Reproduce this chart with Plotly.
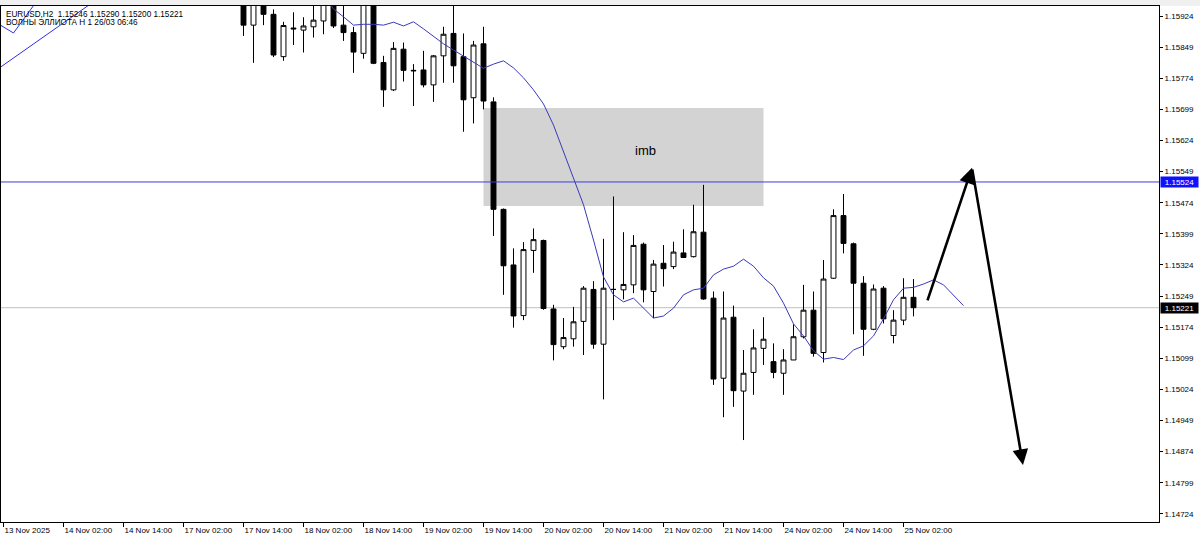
import plotly.graph_objects as go

# ---------------- data ----------------
bar_index = list(range(24, 92))
opens = [1.15975, 1.15902, 1.15985, 1.15928, 1.15826, 1.15895, 1.15890, 1.15898, 1.15912, 1.15970,
         1.15902, 1.15884, 1.15834, 1.15965, 1.15812, 1.15746, 1.15844, 1.15793, 1.15794, 1.15758,
         1.15828, 1.15882, 1.15826, 1.15727, 1.15857, 1.15717, 1.15458, 1.15324, 1.15202, 1.15359,
         1.15383, 1.15218, 1.15127, 1.15146, 1.15188, 1.15265, 1.15133, 1.15265, 1.15264, 1.15276,
         1.15374, 1.15260, 1.15328, 1.15320, 1.15353, 1.15344, 1.15403, 1.15244, 1.15051, 1.15198,
         1.15020, 1.15065, 1.15123, 1.15091, 1.15063, 1.15095, 1.15151, 1.15215, 1.15113, 1.15292,
         1.15443, 1.15375, 1.15280, 1.15169, 1.15268, 1.15154, 1.15191, 1.15246]
highs = [1.15990, 1.16000, 1.15995, 1.15940, 1.15910, 1.15933, 1.15921, 1.15960, 1.15980, 1.15985,
         1.15960, 1.15898, 1.15975, 1.15975, 1.15828, 1.15861, 1.15860, 1.15808, 1.15840, 1.15830,
         1.15898, 1.15965, 1.15882, 1.15864, 1.15898, 1.15728, 1.15460, 1.15364, 1.15379, 1.15412,
         1.15385, 1.15228, 1.15196, 1.15223, 1.15273, 1.15285, 1.15387, 1.15489, 1.15403, 1.15396,
         1.15378, 1.15336, 1.15372, 1.15380, 1.15410, 1.15469, 1.15517, 1.15260, 1.15260, 1.15226,
         1.15119, 1.15169, 1.15198, 1.15135, 1.15121, 1.15181, 1.15276, 1.15260, 1.15336, 1.15458,
         1.15495, 1.15378, 1.15297, 1.15277, 1.15273, 1.15215, 1.15292, 1.15290]
lows = [1.15876, 1.15811, 1.15902, 1.15825, 1.15816, 1.15854, 1.15836, 1.15872, 1.15880, 1.15895,
        1.15864, 1.15787, 1.15821, 1.15808, 1.15705, 1.15743, 1.15766, 1.15707, 1.15752, 1.15717,
        1.15763, 1.15763, 1.15645, 1.15665, 1.15699, 1.15394, 1.15252, 1.15173, 1.15191, 1.15305,
        1.15216, 1.15094, 1.15121, 1.15127, 1.15107, 1.15122, 1.15000, 1.15191, 1.15241, 1.15256,
        1.15234, 1.15196, 1.15272, 1.15314, 1.15341, 1.15342, 1.15240, 1.15035, 1.14957, 1.14982,
        1.14902, 1.15011, 1.15083, 1.15051, 1.15011, 1.15095, 1.15147, 1.15103, 1.15089, 1.15290,
        1.15352, 1.15157, 1.15105, 1.15167, 1.15183, 1.15135, 1.15179, 1.15200]
closes = [1.15902, 1.15985, 1.15928, 1.15830, 1.15901, 1.15893, 1.15900, 1.15914, 1.15965, 1.15900,
          1.15884, 1.15837, 1.15960, 1.15810, 1.15746, 1.15846, 1.15793, 1.15792, 1.15758, 1.15828,
          1.15880, 1.15804, 1.15722, 1.15854, 1.15719, 1.15458, 1.15322, 1.15201, 1.15361, 1.15385,
          1.15219, 1.15132, 1.15149, 1.15187, 1.15268, 1.15133, 1.15268, 1.15265, 1.15277, 1.15371,
          1.15264, 1.15326, 1.15315, 1.15355, 1.15342, 1.15404, 1.15242, 1.15049, 1.15196, 1.15021,
          1.15063, 1.15124, 1.15145, 1.15065, 1.15095, 1.15151, 1.15215, 1.15111, 1.15290, 1.15443,
          1.15376, 1.15280, 1.15169, 1.15266, 1.15194, 1.15191, 1.15246, 1.15221]

ma_bars = list(range(31, 97))
ma_values = [1.16011, 1.15977, 1.15941, 1.15922, 1.15902, 1.15904, 1.15904, 1.15902, 1.15909, 1.15900,
             1.15910, 1.15893, 1.15874, 1.15857, 1.15842, 1.15828, 1.15813, 1.15798, 1.15808, 1.15816,
             1.15799, 1.15775, 1.15746, 1.15712, 1.15661, 1.15596, 1.15529, 1.15469, 1.15384, 1.15295,
             1.15252, 1.15235, 1.15244, 1.15220, 1.15196, 1.15201, 1.15220, 1.15252, 1.15264, 1.15268,
             1.15300, 1.15314, 1.15321, 1.15338, 1.15321, 1.15293, 1.15273, 1.15232, 1.15182, 1.15153,
             1.15117, 1.15097, 1.15101, 1.15096, 1.15119, 1.15129, 1.15153, 1.15194, 1.15240, 1.15268,
             1.15270, 1.15278, 1.15288, 1.15276, 1.15252, 1.15226]

wave1_bars = [-2, 12]
wave1_prices = [1.15772, 1.16009]
wave2_bars = [-1, 1, 4]
wave2_prices = [1.15912, 1.15883, 1.15982]

arrow_bars = [92.35, 96.85, 101.95]
arrow_prices = [1.15235, 1.15558, 1.14842]

imb_bars = [48, 76]
imb_prices = [1.15466, 1.15702]
imb_label_bar = 64.15
imb_label_price = 1.15601

resistance_level = 1.15524
bid_level = 1.15221

x_tick_bars = [0, 6, 12, 18, 24, 30, 36, 42, 48, 54, 60, 66, 72, 78, 84, 90]
x_tick_labels = ["13 Nov 2025", "14 Nov 02:00", "14 Nov 14:00", "17 Nov 02:00", "17 Nov 14:00",
                 "18 Nov 02:00", "18 Nov 14:00", "19 Nov 02:00", "19 Nov 14:00", "20 Nov 02:00",
                 "20 Nov 14:00", "21 Nov 02:00", "21 Nov 14:00", "24 Nov 02:00", "24 Nov 14:00",
                 "25 Nov 02:00"]
price_ticks = [1.14724, 1.14799, 1.14874, 1.14949, 1.15024, 1.15099, 1.15174, 1.15249, 1.15324,
               1.15399, 1.15474, 1.15549, 1.15624, 1.15699, 1.15774, 1.15849, 1.15924]

header_line1 = "EURUSD,H2\u00a0 1.15246 1.15290 1.15200 1.15221"
header_line2 = "ВОЛНЫ ЭЛЛИОТА Н 1 26/03 06:46"

FONT = "Liberation Sans, Arial, sans-serif"
MA_COLOR = "#3a3ab8"

fig = go.Figure()

fig.add_trace(go.Candlestick(
    x=bar_index, open=opens, high=highs, low=lows, close=closes,
    increasing=dict(line=dict(color="black", width=1), fillcolor="white"),
    decreasing=dict(line=dict(color="black", width=1), fillcolor="black"),
    whiskerwidth=0, showlegend=False, hoverinfo="skip"))

fig.add_trace(go.Scatter(x=ma_bars, y=ma_values, mode="lines",
                         line=dict(color=MA_COLOR, width=1), showlegend=False, hoverinfo="skip"))
fig.add_trace(go.Scatter(x=wave1_bars, y=wave1_prices, mode="lines",
                         line=dict(color="#3030e0", width=1), showlegend=False, hoverinfo="skip"))
fig.add_trace(go.Scatter(x=wave2_bars, y=wave2_prices, mode="lines",
                         line=dict(color="#3030e0", width=1), showlegend=False, hoverinfo="skip"))

shapes = [
    dict(type="rect", xref="x", yref="y", x0=imb_bars[0], x1=imb_bars[1],
         y0=imb_prices[0], y1=imb_prices[1], fillcolor="#d3d3d3", line=dict(width=0), layer="below"),
    dict(type="line", xref="paper", yref="y", x0=0, x1=1, y0=bid_level, y1=bid_level,
         line=dict(color="#c0c0c0", width=1), layer="below"),
    dict(type="line", xref="paper", yref="y", x0=0, x1=1, y0=resistance_level, y1=resistance_level,
         line=dict(color="#3c3cdc", width=1), layer="above"),
    dict(type="rect", xref="paper", yref="paper", x0=-0.01, x1=1.05, y0=1.0, y1=1.02,
         fillcolor="#f0f0f0", line=dict(width=0), layer="below"),
]

annotations = [
    dict(text="imb", x=imb_label_bar, y=imb_label_price, xref="x", yref="y", showarrow=False,
         font=dict(family=FONT, size=13, color="black")),
    dict(text=header_line1, x=0, y=1, xref="paper", yref="paper", xanchor="left", yanchor="top",
         xshift=3, yshift=-2, showarrow=False, font=dict(family=FONT, size=8.2, color="black")),
    dict(text=header_line2, x=0, y=1, xref="paper", yref="paper", xanchor="left", yanchor="top",
         xshift=3, yshift=-10, showarrow=False, font=dict(family=FONT, size=8.2, color="black")),
    dict(text=f"{resistance_level:.5f}", x=1, y=resistance_level, xref="paper", yref="y",
         xanchor="left", xshift=1, showarrow=False, bgcolor="#1010ff", width=37, height=10,
         borderpad=0, font=dict(family=FONT, size=8, color="white")),
    dict(text=f"{bid_level:.5f}", x=1, y=bid_level, xref="paper", yref="y",
         xanchor="left", xshift=1, showarrow=False, bgcolor="black", width=37, height=10,
         borderpad=0, font=dict(family=FONT, size=8, color="white")),
]
# arrows (up then down)
for i in range(2):
    annotations.append(dict(
        x=arrow_bars[i + 1], y=arrow_prices[i + 1], ax=arrow_bars[i], ay=arrow_prices[i],
        xref="x", yref="y", axref="x", ayref="y", text="", showarrow=True,
        arrowhead=2, arrowsize=1.2, arrowwidth=2.6, arrowcolor="black", standoff=0))

fig.update_layout(
    width=1200, height=545,
    margin=dict(l=1, r=41, t=6, b=23),
    paper_bgcolor="white", plot_bgcolor="white",
    showlegend=False,
    font=dict(family=FONT, size=8, color="black"),
    shapes=shapes, annotations=annotations,
    xaxis=dict(range=[-0.25, 115.55], rangeslider=dict(visible=False), showgrid=False, zeroline=False,
               tickmode="array", tickvals=x_tick_bars, ticktext=x_tick_labels,
               ticks="outside", ticklen=4, tickcolor="black", ticklabelposition="outside right",
               showline=True, linecolor="black", linewidth=1, mirror=True,
               tickfont=dict(family=FONT, size=8, color="black")),
    yaxis=dict(range=[1.147045, 1.159481], side="right", showgrid=False, zeroline=False,
               tickmode="array", tickvals=price_ticks, ticktext=[f"{v:.5f}" for v in price_ticks],
               ticks="outside", ticklen=3, tickcolor="black",
               showline=True, linecolor="black", linewidth=1, mirror=True,
               tickfont=dict(family=FONT, size=8, color="black")),
)

fig.write_html("out.html", config={"displayModeBar": False},
               post_script="document.body.style.margin='0';document.body.style.overflow='hidden';")
